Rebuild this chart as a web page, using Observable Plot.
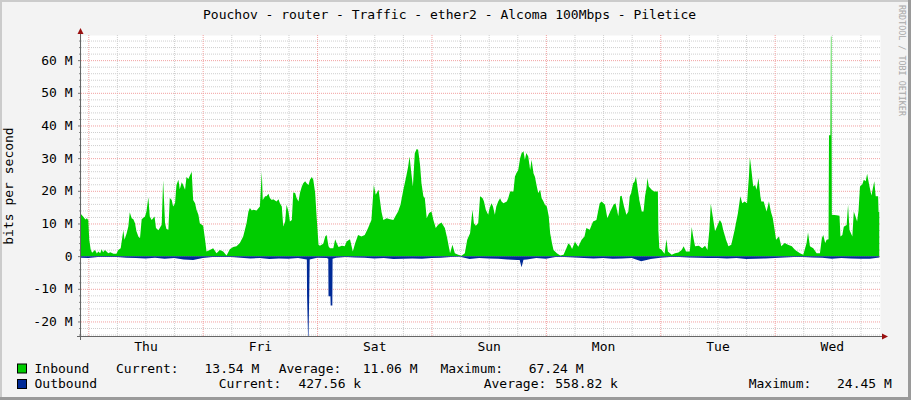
<!DOCTYPE html>
<html><head><meta charset="utf-8">
<script src="https://cdn.jsdelivr.net/npm/d3@7"></script>
<script src="https://cdn.jsdelivr.net/npm/@observablehq/plot@0.6"></script>
<style>html,body{margin:0;padding:0;background:#f3f3f3}</style>
</head><body><div id="chart"></div>
<script>
// ---- data (hours from Thursday 00:00, values in Mbit/s) ----
const days = ["Thu", "Fri", "Sat", "Sun", "Mon", "Tue", "Wed"];
const title = "Pouchov - router - Traffic - ether2 - Alcoma 100Mbps - Piletice";
const yLabel = "bits per second";
const watermark = "RRDTOOL / TOBI OETIKER";
const yTicksMajor = [-20, -10, 0, 10, 20, 30, 40, 50, 60];

const inbound = [
[-2,13],[-1.5,12.8],[-1,12],[-0.6,11.2],[-0.3,11.6],[0,11],[0.2,5],[0.5,2],[0.8,1],
[1.4,1.9],[1.8,0.8],[2.1,1.4],[2.5,0.9],[2.8,2.1],[3.1,1.2],[3.5,1.9],[4.2,0.9],[4.6,1.2],[5.3,0.7],[5.9,0.7],
[6.3,1.9],[6.8,2.4],[7.35,7.9],[7.6,5],[8.05,7],[8.4,9.1],[8.7,13.4],[9.1,11.6],[9.45,11.3],[9.8,10.1],[10.1,7.6],[10.5,6],[10.85,5.5],[11.2,11.3],[11.9,12.1],[12.2,13.7],[12.6,18],[12.9,12.1],[13.3,11.1],[13.6,11.6],[13.9,12.1],[14.2,8.6],[14.7,7.9],[15.0,8.6],[15.4,9.6],[15.7,23.2],[16.1,10.1],[16.4,8.3],[16.8,8.1],[17.1,17.8],[17.5,17.2],[17.8,15.2],[18.2,16.2],[18.5,21.8],[18.9,23.4],[19.2,20.5],[19.6,22.6],[19.9,21.8],[20.3,20.3],[20.6,24.2],[21.0,23.6],[21.3,24.6],[21.7,25.8],[22.0,17.2],[22.4,16.2],[22.7,14.2],[23.1,12.7],[23.4,10.1],[23.8,9.6],[24.1,9.3],[24.5,5],[24.8,1.4],
[25.5,1.9],[26.2,2.4],[26.9,0.9],[27.6,1.9],[28.3,1.4],[29.0,0.2],
[29.7,2.1],[30.4,2.8],[31.1,3],[31.8,4],[32.5,6],[33.2,10.1],[33.6,13.7],[33.9,14.7],[34.3,14],[34.6,14.2],[35.3,14],[36.0,15.2],[36.4,25.8],[36.6,17.2],[37.1,18.3],[37.4,18.3],[37.8,19.1],[38.1,17.8],[38.5,17.2],[38.8,17.4],[39.5,16.7],[39.9,17.4],[40.2,16.2],[40.6,15.2],[40.9,9.1],[41.3,10.6],[41.6,15.7],[42.0,13.7],[42.3,10.6],[42.7,11.1],[43.0,19.5],[43.4,19.3],[43.7,17.8],[44.1,16.7],[44.4,19.3],[44.8,21.3],[45.1,22.3],[45.5,22.9],[45.8,22.3],[46.2,21.8],[46.5,23.4],[46.9,24.2],[47.2,23.4],[47.6,19.3],[47.9,12.1],[48.3,3.5],[48.6,3.2],[49.3,3.8],[49.7,6],[50.0,6.5],[50.4,3],[50.7,2.4],
[51.4,2.4],[51.8,5.2],[52.1,4],[52.5,2.8],[53.2,3.2],[53.8,3],[54.2,4.5],[54.9,5.2],[55.5,1.4],[56.0,4],[56.6,6.5],[57.3,6],[58.0,6.5],[58.7,8.6],[59.4,11.1],[59.9,21.8],[60.3,18.8],[60.9,20.3],[61.5,13.7],[61.9,11.1],[62.6,11.6],[63.3,11.3],[64.0,11.1],[64.6,12.7],[65.0,13.7],[65.5,15.7],[66.1,20.3],[66.7,24.4],[67.1,27.4],[67.4,30.5],[67.7,26.4],[68.1,21.3],[68.5,31.5],[68.9,32.8],[69.2,32.6],[69.6,28],[69.9,22.3],[70.3,18.3],[70.6,17.8],[71.0,11.6],[71.5,13.2],[72.0,13.7],[72.4,11.1],[72.9,8.6],[73.4,9.6],[74.1,10.3],[74.8,8.6],[75.3,5.5],[75.9,0.9],[76.4,3.5],[76.9,0.9],[77.6,0.4],[78.3,0.1],[79.0,0.9],[79.5,5],[80.1,7],
[80.6,14.2],[80.9,10.1],[81.3,9.3],[81.8,10.1],[82.2,18.3],[82.7,17.8],[83.0,16.8],[83.4,14.2],[83.9,12.7],[84.2,14.7],[84.6,16.2],[84.9,15.2],[85.3,12.7],[85.6,15.2],[86.0,16.7],[86.4,17.7],[86.7,16.7],[87.1,16.2],[87.8,16.7],[88.1,17.7],[88.5,19.8],[89.2,19.8],[89.5,24.3],[89.8,25.4],[90.2,26.4],[90.6,30],[90.9,31.5],[91.3,32.1],[91.6,29.5],[91.9,31.6],[92.3,30.5],[92.7,26.4],[93.0,29.5],[93.4,25.4],[93.7,24.3],[94.1,21.3],[94.4,19.3],[94.8,20.3],[95.1,17.8],[95.5,16.7],[95.8,15.7],[96.2,15.2],[96.6,12.2],[96.9,7],[97.3,3.9],[97.6,1.9],[98.3,0.9],[99.0,0.2],[99.7,0.4],
[100.2,2],[100.7,3.9],[101.1,3.4],[101.5,2.2],[102.1,4.4],[102.8,2.9],[103.5,5],[104.1,6],[104.5,8.6],[105.2,8.1],[105.9,10.6],[106.6,11.1],[107.3,16.2],[107.7,16.7],[108.4,15.7],[108.9,11.6],[109.5,13.7],[110.2,15.7],[110.6,16.2],[111.2,12.2],[111.6,18.3],[111.9,18.5],[112.4,15.2],[112.9,12.7],[113.3,13.7],[113.6,18.3],[113.9,19.3],[114.3,22.3],[114.6,22.8],[114.9,24.4],[115.2,21.3],[115.6,17.2],[115.9,15.2],[116.1,13.7],[116.5,13.7],[116.8,18.3],[117.1,20.8],[117.3,23.9],[117.6,21.3],[118.2,20.3],[118.7,19.8],[119.2,19.8],[119.5,19.8],[119.6,8],[119.8,2.4],
[120.3,1.9],[120.9,0.7],[121.3,5.2],[121.6,1.4],[122.4,0.4],[123.1,0.9],[123.8,1.1],[124.5,1.9],[124.9,3],[125.4,1.4],[126.2,1.4],[126.6,8.9],[126.9,6],[127.3,3],[128.1,3.2],[128.8,2.4],[129.4,3.2],[129.9,1.9],[130.3,8],[130.6,16],[131.0,12.2],[131.5,7.6],[132.2,10.1],[132.5,11.1],[132.9,10.1],[133.2,8],[133.8,5],[134.3,3],[134.9,3.5],[135.6,8],[136.3,13.2],[136.8,18.3],[137.2,16.2],[137.7,16.7],[138.2,16.2],[138.6,24.4],[138.8,30.3],[139.2,25.4],[139.5,21.3],[139.9,21.8],[140.2,20.3],[140.6,23.9],[141.0,18.3],[141.2,16.7],[141.7,16.7],[142.3,13.7],[142.8,16.7],[143.2,13.7],[143.6,11.7],
[144.0,8],[144.3,5],[144.9,6],[145.4,3],[146.1,4],[146.8,3.5],[147.6,3],[148.3,1.9],[149.3,0.9],[150.0,0.4],[150.7,4],[151.0,7.2],[151.4,3],[152.1,2.4],[152.8,0.9],[153.5,0.9],[153.9,5.5],[154.2,6.5],[154.6,4],[154.9,5],[155.3,5.2],
[155.4,37],[155.7,37],[155.8,67.24],[155.9,67.24],[156.0,12.7],[157.0,12.5],[157.6,12.4],[157.8,6],[158.2,6.5],[158.5,9],[159.1,9.5],[159.4,15.7],[159.7,8],[160.3,6],[160.6,13.7],[161.0,12],[161.3,10.6],[161.6,14],[161.9,21.3],[162.4,22],[162.7,23.4],[163.1,22.9],[163.4,25.2],[163.8,22],[164.3,18.6],[164.9,22.9],[165.2,18.3],[165.7,18.3],[165.8,13.54],[165.95,13.54]
];

const outbound = [
[-2,-0.5],[0,-0.6],[2,-0.3],[4,-0.3],[6,-0.3],[8,-0.5],[10,-0.6],[12,-0.7],[14,-0.5],[16,-0.8],[18,-0.6],[20,-1.0],[22,-1.2],
[24,-0.6],[26,-0.3],[28,-0.3],[30,-0.3],[32,-0.5],[34,-0.7],[36,-0.6],[38,-0.9],[40,-0.7],[42,-0.8],[44,-0.6],
[45.85,-1],[45.9,-12],[46.1,-24.45],[46.2,-24.45],[46.35,-12],[46.45,-1],
[48,-0.5],[50,-0.6],[50.35,-0.8],[50.4,-12.3],[50.8,-12.3],[50.85,-15.1],[51.2,-15.1],[51.25,-0.8],[52,-0.5],[54,-0.3],[56,-0.4],[58,-0.5],[60,-0.7],[62,-0.6],[64,-0.9],[66,-0.8],[68,-0.7],[70,-0.8],
[72,-0.6],[74,-0.5],[76,-0.3],[78,-0.2],[80,-0.9],[82,-0.6],[84,-0.7],[86,-0.8],[88,-1.0],[90,-1.2],[90.5,-1.2],[90.9,-3.4],[91.3,-1.1],[92,-1.0],[94,-0.6],
[96,-0.8],[98,-0.3],[100,-0.3],[102,-0.4],[104,-0.6],[106,-0.7],[108,-0.6],[110,-0.8],[112,-0.7],[114,-0.6],[116,-1.6],[118,-0.9],
[120,-0.5],[122,-0.3],[124,-0.3],[126,-0.4],[128,-0.5],[130,-0.6],[132,-0.6],[134,-0.7],[136,-0.6],[138,-0.9],[140,-0.8],[142,-0.7],
[144,-0.6],[146,-0.4],[148,-0.3],[150,-0.3],[152,-0.4],[154,-0.5],[156,-0.8],[158,-0.6],[160,-0.7],[162,-0.8],[164,-0.8],[165.95,-0.43]
];

const legendRows = [
  {name: "Inbound", color: "#00cc00", cur: "13.54 M", avg: "11.06 M", max: "67.24 M"},
  {name: "Outbound", color: "#002a97", cur: "427.56 k", avg: "558.82 k", max: "24.45 M"}
];

// ---- build ----
const inData = inbound.map(([h, v]) => ({h, v: v * 1e6}));
const outData = outbound.map(([h, v]) => ({h, v: v * 1e6}));
const yMajor = yTicksMajor.map(d => d * 1e6);
const yMinor = d3.range(-24, 68, 2).filter(d => d % 10 !== 0).map(d => d * 1e6);
const xMajor = d3.range(0, 168, 24);
const xMinor = d3.range(0, 168, 6).filter(d => d % 24 !== 0);
const dayNoon = days.map((d, i) => i * 24 + 12);
const fmtY = d => d === 0 ? "0" : `${d / 1e6} M`;
const FONT = "'DejaVu Sans Mono', monospace";

const chart = Plot.plot({
  width: 911, height: 400,
  marginLeft: 81, marginRight: 31, marginTop: 35, marginBottom: 64,
  style: {background: "#f3f3f3", fontFamily: FONT, fontSize: "13px", color: "#000"},
  x: {domain: [-1.53, 166.1], label: null},
  y: {domain: [-24.45e6, 67.7e6], label: null},
  marks: [
    Plot.frame({fill: "#fff", stroke: null}),
    Plot.ruleY(yMinor, {stroke: "#cfcfcf", strokeDasharray: "1,1"}),
    Plot.ruleX(xMinor, {stroke: "#cfcfcf", strokeDasharray: "1,1"}),
    Plot.ruleY(yMajor, {stroke: "#f2a0a0", strokeDasharray: "1,1"}),
    Plot.ruleX(xMajor, {stroke: "#f2a0a0", strokeDasharray: "1,1"}),
    Plot.areaY(inData, {x: "h", y1: 0, y2: "v", fill: "#00cc00", clip: true}),
    Plot.areaY(outData, {x: "h", y1: 0, y2: "v", fill: "#002a97", clip: true}),
    Plot.axisY(yMinor, {tickSize: 2, tickFormat: () => "", stroke: "#888"}),
    Plot.axisY(yMajor, {tickSize: 3, tickPadding: 6, tickFormat: fmtY, stroke: "#777", fill: "#000", fontSize: 13}),
    Plot.axisX(dayNoon, {tickSize: 0, tickPadding: 5.5, tickFormat: d => days[(d - 12) / 24], fill: "#000", fontSize: 13})
  ]
});
document.getElementById("chart").appendChild(chart);

// ---- decorations (axes with arrows, title, legend, frame) ----
const svg = d3.select(chart);
const x0 = 80.5, yb = 336.5;
const axisG = svg.append("g").attr("stroke", "#666").attr("stroke-width", 1);
axisG.append("line").attr("x1", x0).attr("x2", x0).attr("y1", 340).attr("y2", 32);
axisG.append("line").attr("x1", 77).attr("x2", 883).attr("y1", yb).attr("y2", yb);
svg.append("path").attr("d", `M${x0 - 3},34 L${x0 + 3},34 L${x0},28 Z`).attr("fill", "#9a1010");
svg.append("path").attr("d", `M882,${yb - 3} L882,${yb + 3} L888,${yb} Z`).attr("fill", "#9a1010");

const txt = (x, y, s, opts = {}) => svg.append("text")
  .attr("x", x).attr("y", y).attr("text-anchor", opts.anchor || "start")
  .attr("font-family", FONT).attr("font-size", opts.size || 13)
  .attr("fill", opts.fill || "#000").attr("transform", opts.transform || null).text(s);

txt(203, 19, title);
txt(0, 0, yLabel, {anchor: "middle", transform: "translate(13,186) rotate(-90)"});
txt(0, 0, watermark, {anchor: "start", size: 8.4, fill: "#a8a8a8", transform: "translate(899,5) rotate(90)"});

const rowY = [372.5, 388];
const boxY = [364, 379.5];
legendRows.forEach((r, i) => {
  svg.append("rect").attr("x", 17.5).attr("y", boxY[i]).attr("width", 9).attr("height", 9)
    .attr("fill", r.color).attr("stroke", "#000").attr("stroke-width", 1);
  txt(34.5, rowY[i], r.name);
});
txt(116, rowY[0], "Current:");
txt(204.5, rowY[0], legendRows[0].cur);
txt(278.7, rowY[0], "Average:");
txt(362.7, rowY[0], legendRows[0].avg);
txt(440.5, rowY[0], "Maximum:");
txt(528.7, rowY[0], legendRows[0].max);
txt(218.7, rowY[1], "Current:");
txt(298.5, rowY[1], legendRows[1].cur);
txt(483.7, rowY[1], "Average:");
txt(555.3, rowY[1], legendRows[1].avg);
txt(748.7, rowY[1], "Maximum:");
txt(837, rowY[1], legendRows[1].max);

// 3D frame borders
svg.append("rect").attr("x", 0).attr("y", 0).attr("width", 911).attr("height", 2).attr("fill", "#cbcbcb");
svg.append("rect").attr("x", 0).attr("y", 0).attr("width", 2).attr("height", 400).attr("fill", "#cbcbcb");
svg.append("rect").attr("x", 908).attr("y", 0).attr("width", 3).attr("height", 400).attr("fill", "#9a9a9a");
svg.append("rect").attr("x", 0).attr("y", 397).attr("width", 911).attr("height", 3).attr("fill", "#9a9a9a");
</script></body></html>
